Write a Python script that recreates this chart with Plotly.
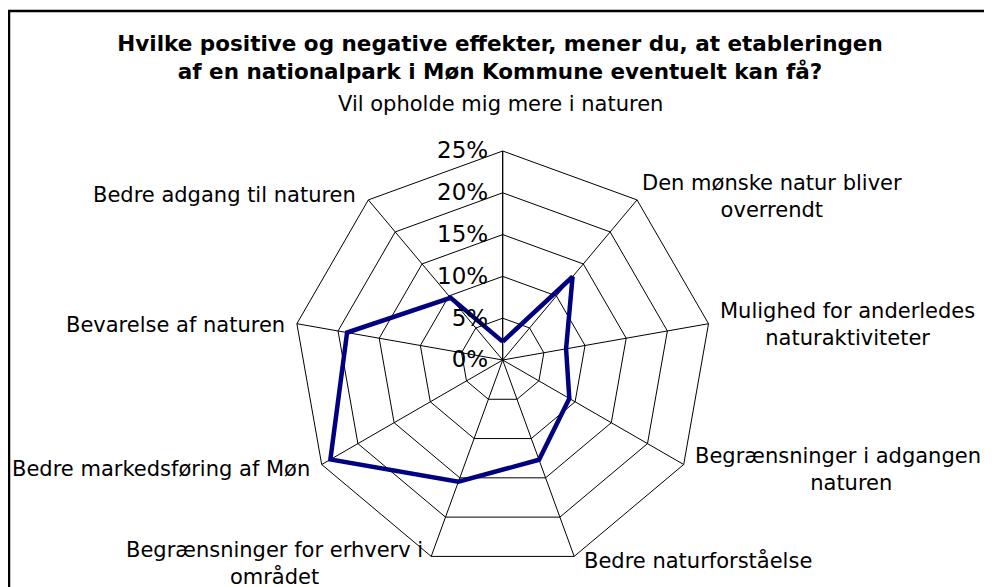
import plotly.graph_objects as go

categories = [
    "Vil opholde mig mere i naturen",
    "Den mønske natur bliver overrendt",
    "Mulighed for anderledes naturaktiviteter",
    "Begrænsninger i adgangen til naturen",
    "Bedre naturforståelse",
    "Begrænsninger for erhverv i området",
    "Bedre markedsføring af Møn",
    "Bevarelse af naturen",
    "Bedre adgang til naturen",
]
category_labels = [
    "Vil opholde mig mere i naturen",
    "Den mønske natur bliver<br>overrendt",
    "Mulighed for anderledes<br>naturaktiviteter",
    "Begrænsninger i adgangen til<br>naturen",
    "Bedre naturforståelse",
    "Begrænsninger for erhverv i<br>området",
    "Bedre markedsføring af Møn",
    "Bevarelse af naturen",
    "Bedre adgang til naturen",
]
values = [2.2, 13.0, 7.7, 9.2, 12.7, 15.5, 23.8, 18.9, 9.7]
radial_ticks = [0, 5, 10, 15, 20, 25]
radial_labels = ["0%", "5%", "10%", "15%", "20%", "25%"]

title_text = ("Hvilke positive og negative effekter, mener du, at etableringen<br>"
              "af en nationalpark i Møn Kommune eventuelt kan få?")

W, H = 992, 587
OFF = 8  # page body margin of the html page


def fx(px):
    return (px - OFF) / W


def fy(py):
    return 1 - (py - OFF) / H


# label placement in page pixels: (x, y, xanchor)
label_pos = [
    (500, 104, "center"),
    (640, 196, "left"),
    (718, 324, "left"),
    (693, 470, "left"),
    (582, 560, "left"),
    (425, 563, "right"),
    (312, 469, "right"),
    (287, 325, "right"),
    (358, 195, "right"),
]

FONT = "DejaVu Sans, Verdana, sans-serif"

fig = go.Figure()
fig.add_trace(go.Scatterpolar(
    r=values + values[:1],
    theta=categories + categories[:1],
    mode="lines",
    line=dict(color="#000080", width=4.5),
    showlegend=False,
    hoverinfo="skip",
))

annotations = []
for text, (x, y, xa) in zip(category_labels, label_pos):
    annotations.append(dict(
        text=text, x=fx(x), y=fy(y), xref="paper", yref="paper",
        xanchor=xa, yanchor="middle", align="center", showarrow=False,
        font=dict(size=21, family=FONT, color="black"),
    ))

cx, cy, R = 502.7 - OFF, 360.0 - OFF, 209.0
fig.update_layout(
    width=W, height=H,
    margin=dict(l=0, r=0, t=0, b=0),
    paper_bgcolor="white",
    plot_bgcolor="white",
    font=dict(family=FONT, color="black", size=21),
    title=dict(text="<b>" + title_text + "</b>", x=fx(500), xanchor="center",
               y=fy(51), yanchor="middle",
               font=dict(size=21.5, family=FONT, color="black")),
    polar=dict(
        domain=dict(x=[(cx - R) / W, (cx + R) / W],
                    y=[(H - cy - R) / H, (H - cy + R) / H]),
        bgcolor="white",
        gridshape="linear",
        angularaxis=dict(
            direction="clockwise", rotation=90,
            showline=True, linecolor="black", linewidth=1,
            gridcolor="black", gridwidth=1,
            ticks="", showticklabels=False,
        ),
        radialaxis=dict(
            range=[0, 25], tickvals=radial_ticks, ticktext=radial_labels,
            angle=90, tickangle=90, side="counterclockwise",
            showline=True, linecolor="black", linewidth=1,
            gridcolor="black", gridwidth=1,
            ticks="outside", ticklen=6, tickcolor="rgba(0,0,0,0)",
            tickfont=dict(size=23, family=FONT, color="black"),
        ),
    ),
    annotations=annotations,
    shapes=[dict(type="rect", xref="paper", yref="paper",
                 x0=1 / W, x1=1.05, y0=-0.05, y1=1 - 3 / H,
                 line=dict(color="black", width=2.5), fillcolor="rgba(0,0,0,0)",
                 layer="below")],
)

fig.write_html("out.html")
